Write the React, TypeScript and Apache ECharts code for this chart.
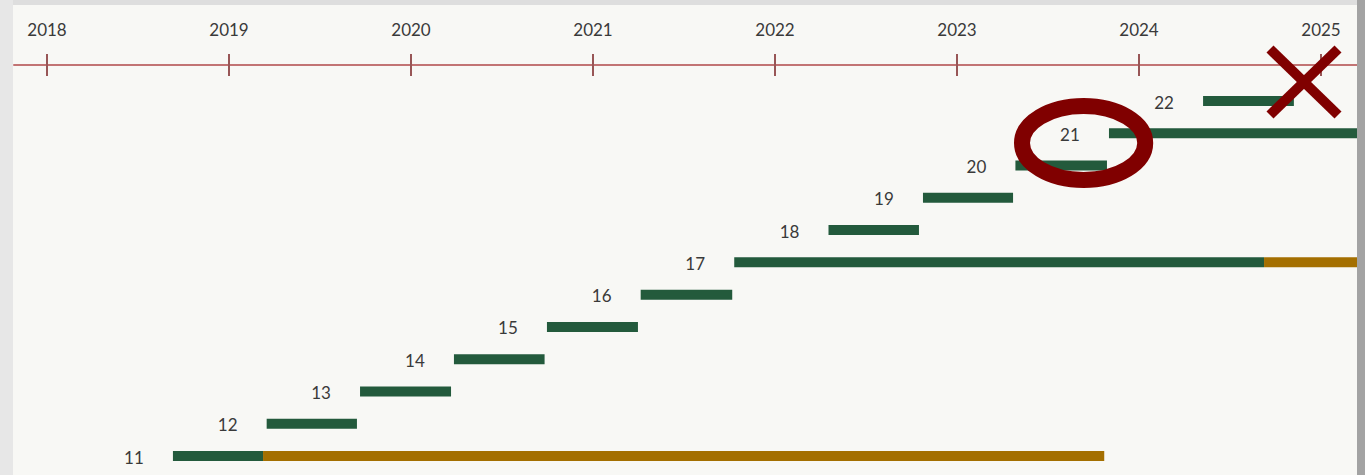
import React, { useEffect, useRef } from "react";
import * as echarts from "echarts";

// ---- data ----
const versions = [11, 12, 13, 14, 15, 16, 17, 18, 19, 20, 21, 22];
const releaseYear = [2018.692, 2019.207, 2019.72, 2020.236, 2020.747, 2021.262, 2021.776, 2022.294, 2022.813, 2023.321, 2023.835, 2024.352];
const premierEnd = [2019.187, 2019.703, 2020.22, 2020.734, 2021.247, 2021.765, 2024.687, 2022.791, 2023.308, 2023.824, 2025.3, 2024.851];
const extendedEnd: (number | null)[] = [2023.809, null, null, null, null, null, 2025.3, null, null, null, null, null];
const yearTicks = [2018, 2019, 2020, 2021, 2022, 2023, 2024, 2025];

const FONT = "Lato, 'Noto Sans', sans-serif";
const GREEN = "#235a3c";
const GOLD = "#a46f00";
const TEXT = "#3a3a3a";

export default function App() {
  const ref = useRef<HTMLDivElement>(null);
  useEffect(() => {
    document.body.style.margin = "0";
    if (!ref.current) return;
    const chart = echarts.init(ref.current, undefined, { renderer: "svg" });

    const data: any[] = [];
    versions.forEach((v, i) => {
      data.push([v, releaseYear[i], premierEnd[i], 0, 1]);
      const ext = extendedEnd[i];
      if (ext != null) data.push([v, premierEnd[i], ext, 1, 0]);
    });

    const xCommon = {
      type: "value" as const,
      position: "top" as const,
      min: 2017.8187,
      max: 2025.1978,
      splitLine: { show: false },
    };

    chart.setOption({
      animation: false,
      backgroundColor: "#f8f8f5",
      grid: { left: 14, right: 8, top: 65, bottom: 0 },
      xAxis: [
        {
          ...xCommon,
          axisLine: { show: true, lineStyle: { color: "#c27474", width: 2 } },
          axisTick: { show: true, customValues: yearTicks, length: 11, lineStyle: { color: "#985656", width: 2 } },
          axisLabel: {
            customValues: yearTicks,
            formatter: (v: number) => String(Math.round(v)),
            fontSize: 17,
            color: TEXT,
            fontFamily: FONT,
            margin: 27,
          },
        },
        {
          ...xCommon,
          axisLine: { show: false },
          axisTick: { show: true, inside: true, customValues: yearTicks, length: 11, lineStyle: { color: "#985656", width: 2 } },
          axisLabel: { show: false },
        },
      ],
      yAxis: { type: "value", min: 10.4113, max: 23.1155, show: false },
      series: [
        {
          type: "custom",
          clip: true,
          encode: { x: [1, 2], y: 0 },
          data,
          renderItem: (params: any, api: any) => {
            const row = api.value(0);
            const s = api.coord([api.value(1), row]);
            const e = api.coord([api.value(2), row]);
            const children: any[] = [
              {
                type: "rect",
                shape: { x: s[0], y: s[1] - 5, width: e[0] - s[0], height: 10 },
                style: { fill: api.value(3) === 1 ? GOLD : GREEN },
              },
            ];
            if (api.value(4) === 1) {
              children.push({
                type: "text",
                style: {
                  text: String(row),
                  x: s[0] - 39,
                  y: s[1] + 1,
                  align: "center",
                  verticalAlign: "middle",
                  fontSize: 17,
                  fontFamily: FONT,
                  fill: TEXT,
                },
              });
            }
            return { type: "group", children };
          },
        },
      ],
      graphic: [
        { type: "rect", z: 100, shape: { x: 0, y: 0, width: 1365, height: 5 }, style: { fill: "#dedede" } },
        { type: "rect", z: 100, shape: { x: 0, y: 0, width: 13, height: 475 }, style: { fill: "#e7e7e7" } },
        { type: "rect", z: 100, shape: { x: 1357, y: 0, width: 8, height: 475 }, style: { fill: "#a3a3a3" } },
        {
          type: "ellipse",
          z: 100,
          shape: { cx: 1083.6, cy: 143, rx: 61.6, ry: 37 },
          style: { fill: "none", stroke: "#800000", lineWidth: 16 },
        },
        {
          type: "line",
          z: 100,
          shape: { x1: 1270, y1: 49, x2: 1338, y2: 115 },
          style: { stroke: "#800000", lineWidth: 10, lineCap: "butt" },
        },
        {
          type: "line",
          z: 100,
          shape: { x1: 1338, y1: 49, x2: 1270, y2: 115 },
          style: { stroke: "#800000", lineWidth: 10, lineCap: "butt" },
        },
      ],
    });
    return () => chart.dispose();
  }, []);
  return <div ref={ref} style={{ width: 1365, height: 475 }} />;
}
